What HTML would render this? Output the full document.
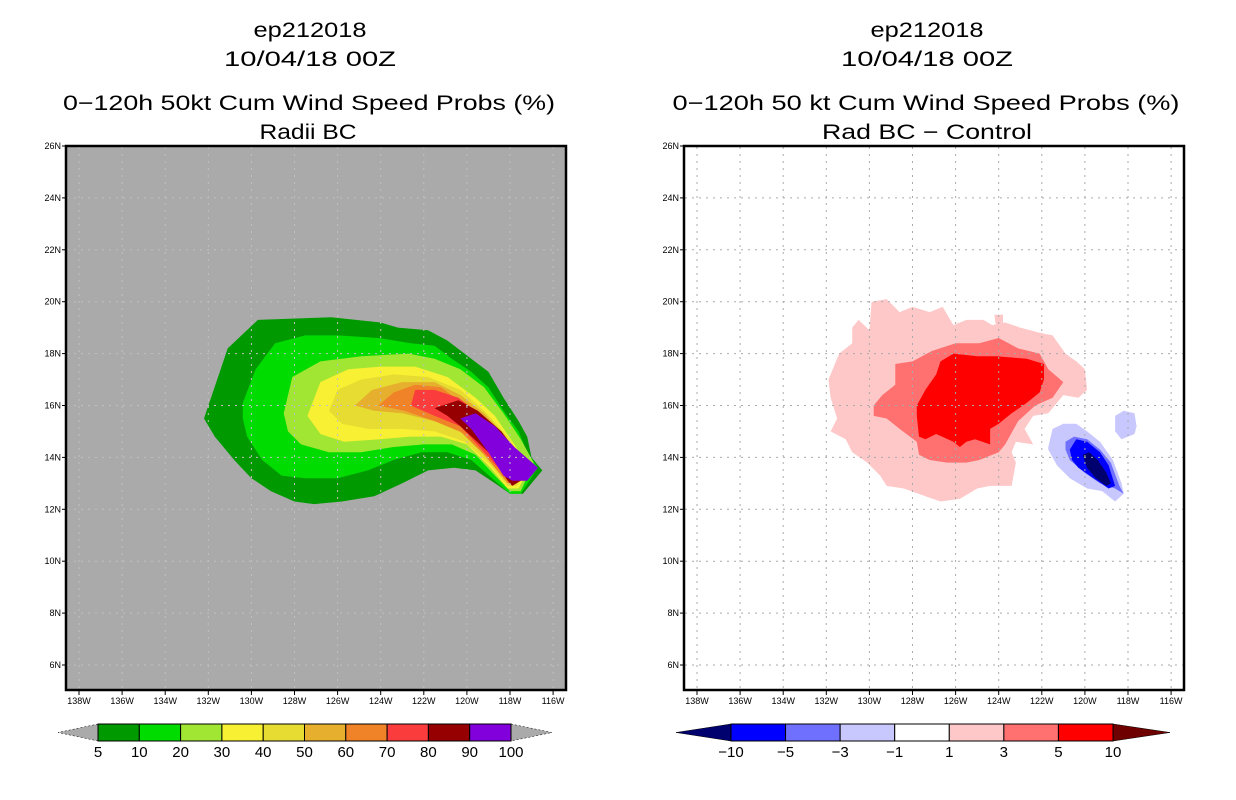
<!DOCTYPE html>
<html><head><meta charset="utf-8"><style>
html,body{margin:0;padding:0;background:#fff;}
svg{display:block;}
text{font-family:"Liberation Sans",sans-serif;fill:#000;}
</style></head><body>
<svg id="fig" width="1236" height="800" viewBox="0 0 1236 800" xmlns="http://www.w3.org/2000/svg">
<g>
<text x="310" y="37" font-size="21" text-anchor="middle" textLength="113" lengthAdjust="spacingAndGlyphs">ep212018</text>
<text x="310" y="66" font-size="21" text-anchor="middle" textLength="172" lengthAdjust="spacingAndGlyphs">10/04/18 00Z</text>
<text x="309" y="110" font-size="21" text-anchor="middle" textLength="492" lengthAdjust="spacingAndGlyphs">0−120h 50kt Cum Wind Speed Probs (%)</text>
<text x="308" y="139" font-size="21" text-anchor="middle" textLength="97" lengthAdjust="spacingAndGlyphs">Radii BC</text>
</g>
<g>
<text x="927" y="37" font-size="21" text-anchor="middle" textLength="113" lengthAdjust="spacingAndGlyphs">ep212018</text>
<text x="927" y="66" font-size="21" text-anchor="middle" textLength="172" lengthAdjust="spacingAndGlyphs">10/04/18 00Z</text>
<text x="926" y="110" font-size="21" text-anchor="middle" textLength="507" lengthAdjust="spacingAndGlyphs">0−120h 50 kt Cum Wind Speed Probs (%)</text>
<text x="927" y="139" font-size="21" text-anchor="middle" textLength="210" lengthAdjust="spacingAndGlyphs">Rad BC − Control</text>
</g>
<g id="left"></g>
<g id="right"></g>
<g id="cbl"></g>
<g id="cbr"></g>
</svg>
<script>
const lonTicks=[-138,-136,-134,-132,-130,-128,-126,-124,-122,-120,-118,-116];
const latTicks=[6,8,10,12,14,16,18,20,22,24,26];
const probLevels=[5,10,20,30,40,50,60,70,80,90,100];
const probColors=["#009900","#00dc00","#a0e632","#f8f032","#e6dc32","#e6af2d","#f08228","#fa3c3c","#960000","#8200dc"];
const diffLevels=[-10,-5,-3,-1,1,3,5,10];
const diffColors=["#0000ff","#7070ff","#c8c8ff","#ffffff","#ffc8c8","#ff7070","#ff0000"];
// left contours (lon,lat)
const p5=[[-132.2,15.5],[-131.1,18.2],[-129.7,19.3],[-126.3,19.4],[-124.0,19.2],[-123.2,19.0],[-121.8,18.9],[-120.9,18.5],[-119.8,17.8],[-119.0,17.3],[-118.3,16.3],[-117.6,15.4],[-117.2,14.8],[-117.0,14.0],[-116.5,13.5],[-117.4,12.6],[-118.0,12.6],[-118.7,13.0],[-119.6,13.5],[-120.6,13.6],[-121.8,13.5],[-123.0,13.0],[-124.3,12.5],[-125.8,12.3],[-127.1,12.2],[-128.0,12.3],[-129.1,12.7],[-130.0,13.2],[-130.8,13.9],[-131.7,14.8]];
const p10=[[-130.4,16.1],[-129.8,17.4],[-128.9,18.4],[-127.5,18.7],[-126.0,18.7],[-124.1,18.6],[-122.6,18.4],[-121.5,18.3],[-120.7,17.8],[-119.8,17.3],[-119.0,16.7],[-118.3,15.8],[-117.6,15.0],[-117.2,14.2],[-116.7,13.6],[-117.5,12.6],[-118.0,12.6],[-118.7,13.1],[-119.8,13.9],[-120.9,14.2],[-122.1,14.2],[-123.4,13.9],[-124.6,13.5],[-126.0,13.2],[-127.5,13.2],[-128.6,13.3],[-129.5,13.9],[-130.2,14.8],[-130.4,15.5]];
const p20=[[-128.5,15.7],[-128.1,17.1],[-126.8,17.7],[-124.9,17.9],[-122.7,18.0],[-121.5,17.8],[-120.3,17.4],[-119.2,16.7],[-118.3,15.7],[-117.5,14.7],[-116.9,13.8],[-117.5,12.7],[-118.0,12.7],[-118.7,13.3],[-119.6,14.1],[-120.7,14.5],[-122.0,14.5],[-123.4,14.4],[-124.9,14.2],[-126.4,14.2],[-127.7,14.5],[-128.3,15.0]];
const p30=[[-127.4,15.6],[-126.8,16.9],[-125.5,17.4],[-124.0,17.5],[-122.4,17.5],[-120.9,17.1],[-119.6,16.3],[-118.7,15.6],[-117.8,14.5],[-117.1,13.6],[-117.6,12.8],[-118.1,12.8],[-118.9,13.6],[-120.0,14.5],[-121.2,14.8],[-122.6,14.8],[-124.0,14.7],[-125.7,14.6],[-126.8,14.9]];
const p40=[[-126.4,15.8],[-126.0,16.6],[-124.9,17.0],[-123.4,17.2],[-121.8,17.1],[-120.3,16.6],[-119.2,15.8],[-118.1,14.8],[-117.2,13.6],[-117.7,12.9],[-118.1,12.9],[-119.0,13.8],[-120.1,14.6],[-121.5,15.0],[-123.0,15.1],[-124.6,15.1],[-125.8,15.3]];
const p50=[[-125.2,16.0],[-124.4,16.6],[-123.0,16.9],[-121.5,16.9],[-120.3,16.4],[-119.2,15.7],[-118.3,14.9],[-117.2,13.6],[-117.7,13.0],[-118.1,13.0],[-119.0,14.0],[-120.1,14.9],[-121.5,15.4],[-123.0,15.7],[-124.3,15.8]];
const p60=[[-124.1,16.0],[-123.4,16.5],[-122.4,16.8],[-121.2,16.7],[-120.1,16.0],[-119.0,15.2],[-118.1,14.6],[-117.3,13.6],[-117.8,13.0],[-118.1,13.0],[-119.2,14.1],[-120.3,15.0],[-121.5,15.4],[-122.9,15.8]];
const p70=[[-122.6,16.0],[-122.4,16.6],[-121.5,16.6],[-120.4,16.3],[-119.3,15.6],[-118.3,14.7],[-117.4,13.6],[-117.8,13.1],[-118.0,13.1],[-119.2,14.2],[-120.3,15.2],[-121.5,15.6]];
const p80=[[-121.5,15.9],[-120.4,16.2],[-119.5,15.8],[-118.4,15.0],[-117.5,14.0],[-116.9,13.6],[-117.5,13.1],[-117.9,12.9],[-118.1,13.1],[-119.0,14.2],[-120.3,15.2],[-120.9,15.6]];
const p90=[[-120.3,15.5],[-119.6,15.7],[-118.7,15.2],[-117.8,14.4],[-116.7,13.6],[-117.2,13.1],[-117.9,13.1],[-118.3,13.3],[-119.0,14.2],[-119.8,15.1]];
const probPolys=[p5,p10,p20,p30,p40,p50,p60,p70,p80,p90];
// right contours (lon,lat)
const d1=[[-131.9,17.0],[-131.4,18.0],[-130.8,18.4],[-130.8,19.0],[-130.5,19.3],[-130.0,18.9],[-129.9,20.0],[-129.2,20.1],[-128.6,19.6],[-128.0,19.8],[-127.2,19.6],[-126.6,19.8],[-126.1,19.1],[-125.5,19.3],[-124.7,19.3],[-124.3,19.1],[-123.7,19.2],[-123.0,19.0],[-122.1,18.8],[-121.5,18.7],[-120.9,18.0],[-120.4,17.7],[-120.0,17.4],[-119.9,16.6],[-120.3,16.3],[-121.0,16.4],[-121.7,15.7],[-122.4,15.6],[-122.8,15.1],[-122.4,14.5],[-123.2,14.6],[-123.4,14.2],[-123.2,13.8],[-123.4,12.9],[-124.4,12.9],[-125.0,12.8],[-125.8,12.4],[-126.7,12.3],[-127.4,12.5],[-128.4,12.8],[-129.2,12.9],[-129.5,13.3],[-130.1,13.8],[-130.8,14.2],[-131.1,14.7],[-131.8,15.0],[-131.5,15.5],[-131.8,16.3]];
const d3=[[-129.8,16.0],[-129.4,16.4],[-128.8,16.8],[-128.8,17.6],[-128.0,17.7],[-127.1,18.1],[-126.0,18.4],[-124.9,18.4],[-124.0,18.6],[-123.1,18.2],[-122.1,18.0],[-121.7,17.4],[-121.0,16.9],[-121.5,16.3],[-122.3,16.0],[-123.1,15.4],[-123.7,14.5],[-124.0,14.2],[-124.9,13.9],[-125.5,13.8],[-126.4,13.8],[-127.2,13.9],[-127.7,14.1],[-127.8,14.6],[-128.6,15.1],[-129.2,15.5],[-129.8,15.6]];
const d5=[[-127.8,16.0],[-127.4,16.6],[-126.9,17.2],[-126.7,17.7],[-126.1,18.0],[-125.0,17.9],[-124.1,17.9],[-122.7,17.8],[-121.9,17.6],[-121.9,17.0],[-122.1,16.5],[-122.7,16.1],[-123.4,15.7],[-124.0,15.3],[-124.4,15.1],[-124.4,14.5],[-125.1,14.7],[-125.5,14.6],[-125.8,14.4],[-126.1,14.6],[-126.9,14.9],[-127.4,14.7],[-127.7,14.8],[-127.8,15.6]];
const d1b=[[-124.2,19.5],[-123.8,19.5],[-123.8,19.0],[-124.1,18.9]];
const n1=[[-121.7,14.4],[-121.5,15.1],[-121.0,15.3],[-120.4,15.3],[-119.9,15.0],[-119.3,14.6],[-118.7,13.9],[-118.3,13.0],[-118.2,12.6],[-118.6,12.3],[-119.2,12.7],[-119.9,12.8],[-120.7,13.2],[-121.3,13.7],[-121.7,14.3]];
const n1b=[[-118.6,15.6],[-118.2,15.8],[-117.7,15.7],[-117.6,15.2],[-117.7,14.9],[-118.3,14.7],[-118.6,15.0]];
const n3=[[-120.9,14.6],[-120.5,14.8],[-119.9,14.7],[-119.3,14.3],[-118.8,13.8],[-118.4,12.9],[-118.2,12.6],[-118.6,12.8],[-119.3,13.0],[-120.0,13.4],[-120.7,13.9],[-120.9,14.3]];
const n5=[[-120.7,14.3],[-120.4,14.7],[-119.9,14.6],[-119.3,14.2],[-118.9,13.7],[-118.6,12.9],[-118.9,12.8],[-119.6,13.2],[-120.3,13.6],[-120.6,13.9]];
const n10=[[-120.1,14.1],[-119.8,14.2],[-119.4,13.9],[-119.0,13.4],[-118.8,13.0],[-119.0,12.9],[-119.5,13.2],[-119.9,13.6]];
const diffPolys=[[d1,"#ffc8c8"],[d1b,"#ffc8c8"],[d3,"#ff7070"],[d5,"#ff0000"],[n1,"#c8c8ff"],[n1b,"#c8c8ff"],[n3,"#7070ff"],[n5,"#0000ff"],[n10,"#00006e"]];

const NS="http://www.w3.org/2000/svg";
function mk(tag,attrs,parent){const e=document.createElementNS(NS,tag);for(const k in attrs)e.setAttribute(k,attrs[k]);parent.appendChild(e);return e;}
function yScale(lat){return 146+(26-lat)*25.95;}
function xScaleFor(x0){return lon=>x0+(lon+138)*21.55;}
function ptsStr(poly,xs){return poly.map(p=>xs(p[0]).toFixed(1)+","+yScale(p[1]).toFixed(1)).join(" ");}

function drawMap(g,fx,x0,bg,polys,gridCol){
  const xs=xScaleFor(x0);
  const r=mk("rect",{x:fx,y:146,width:500,height:544,fill:bg},g);
  
  
  polys.forEach(([poly,col],i)=>{
    const p=mk("polygon",{points:ptsStr(poly,xs),fill:col},g);
    
    
  });
  lonTicks.forEach(lon=>{
    const x=xs(lon);
    const l=mk("line",{x1:x,y1:147,x2:x,y2:689,stroke:gridCol,"stroke-width":1,"stroke-dasharray":"2,5"},g);
    
    
    mk("line",{x1:x,y1:690,x2:x,y2:695,stroke:"#000"},g);
    const t=mk("text",{x:x,y:704,"font-size":9,"text-anchor":"middle"},g);
    t.textContent=Math.abs(lon)+"W";
    
    
  });
  latTicks.forEach(lat=>{
    const y=yScale(lat);
    const l=mk("line",{x1:fx+1,y1:y,x2:fx+499,y2:y,stroke:gridCol,"stroke-width":1,"stroke-dasharray":"2,5"},g);
    
    
    mk("line",{x1:fx-4,y1:y,x2:fx,y2:y,stroke:"#000"},g);
    const t=mk("text",{x:fx-5,y:y+3,"font-size":9,"text-anchor":"end"},g);
    t.textContent=lat+"N";
    
    
  });
  const f=mk("rect",{x:fx,y:146,width:500,height:544,fill:"none",stroke:"#000","stroke-width":2.5},g);
  
  
}
drawMap(document.getElementById("left"),66,79,"#aaaaaa",probPolys.map((p,i)=>[p,probColors[i]]),"#c0c0c0");
drawMap(document.getElementById("right"),684,697,"#ffffff",diffPolys,"#aaaaaa");

function drawBar(g,x0,x1,tl,tr,levels,colors,lcol,rcol){
  const n=colors.length,w=(x1-x0)/n,y0=724,h=17,ym=y0+h/2;
  const a=mk("polygon",{points:`${x0},${y0} ${tl},${ym} ${x0},${y0+h}`,fill:lcol,stroke:"#000","stroke-width":0.5,"stroke-dasharray":lcol=="#aaaaaa"?"2,2":"none"},g);
  
  
  const b=mk("polygon",{points:`${x1},${y0} ${tr},${ym} ${x1},${y0+h}`,fill:rcol,stroke:"#000","stroke-width":0.5,"stroke-dasharray":rcol=="#aaaaaa"?"2,2":"none"},g);
  
  
  colors.forEach((c,i)=>{
    const r=mk("rect",{x:x0+i*w,y:y0,width:w,height:h,fill:c,stroke:"#000","stroke-width":1},g);
    
    
  });
  levels.forEach((v,i)=>{
    const t=mk("text",{x:x0+i*w,y:757,"font-size":15,"text-anchor":"middle"},g);
    t.textContent=(v<0?"−"+Math.abs(v):String(v));
    
    
  });
}
drawBar(document.getElementById("cbl"),98,511,58,552,probLevels,probColors,"#aaaaaa","#aaaaaa");
drawBar(document.getElementById("cbr"),731,1113,676,1170,diffLevels,diffColors,"#00006e","#6e0000");
</script>
</body></html>
